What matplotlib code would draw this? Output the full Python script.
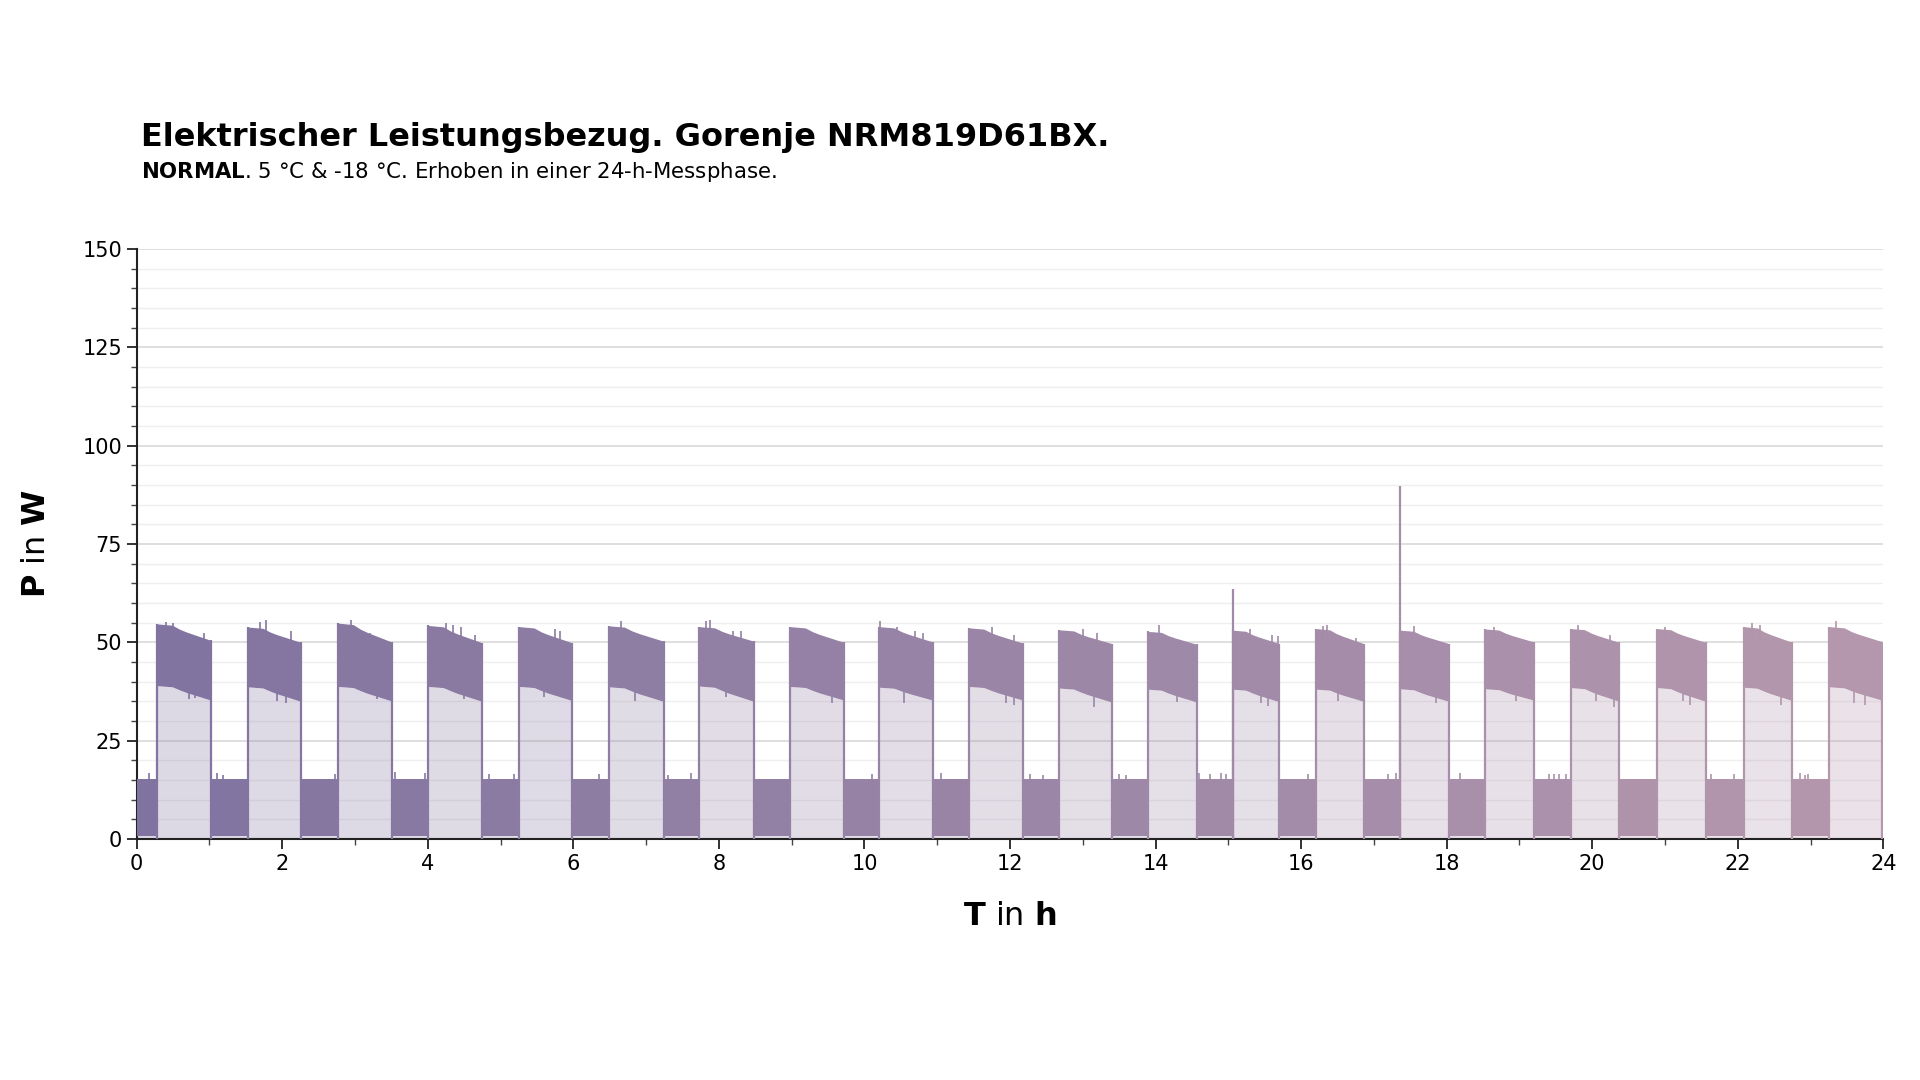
from __future__ import annotations

import matplotlib

matplotlib.use("Agg")
import matplotlib.pyplot as plt
import numpy as np
from matplotlib.colors import to_rgb
from matplotlib.ticker import MultipleLocator

# compressor cycles (hours)
ON_START = [0.283, 1.529, 2.770, 4.006, 5.256, 6.492, 7.73, 8.98, 10.20, 11.43,
            12.67, 13.89, 15.06, 16.21, 17.36, 18.53, 19.71, 20.89, 22.08, 23.26]
ON_END = [1.021, 2.257, 3.503, 4.748, 5.984, 7.24, 8.48, 9.72, 10.94, 12.18,
          13.40, 14.57, 15.70, 16.86, 18.03, 19.20, 20.37, 21.56, 22.75, 23.98]

# envelope of the fast oscillation while the compressor runs (W)
UPPER_START = [54.7, 53.9, 54.9, 54.3, 54.0, 54.2, 54.0, 54.0, 54.0, 53.7,
               53.2, 52.8, 53.1, 53.5, 53.1, 53.4, 53.5, 53.5, 54.0, 54.0]
UPPER_END = [50.5, 50.0, 50.1, 49.9, 49.9, 50.3, 50.3, 50.0, 50.1, 49.8,
             49.7, 49.5, 49.7, 49.7, 49.7, 50.1, 50.0, 50.0, 50.0, 50.2]
LOWER_START = [39.0, 38.7, 38.8, 38.8, 38.8, 38.7, 38.9, 38.8, 38.6, 38.8,
               38.4, 38.1, 38.1, 38.1, 38.2, 38.2, 38.5, 38.5, 38.6, 38.7]
LOWER_END = [35.3, 35.0, 35.1, 35.0, 35.2, 35.0, 35.0, 35.3, 35.3, 35.3,
             34.8, 34.8, 34.9, 35.0, 35.0, 35.3, 35.0, 35.0, 35.2, 35.3]

# envelope shape inside one run (fraction of run time / fraction of drop)
KNOT_FRAC = [0.0, 0.28, 0.42, 0.55, 1.0]
UPPER_DROP = [0.0, 0.08, 0.33, 0.5, 1.0]
LOWER_DROP = [0.0, 0.08, 0.30, 0.48, 1.0]

# standby band between runs (W)
OFF_UPPER = 15.2
OFF_LOWER = 0.7

# spikes
SPIKE_T = [15.06, 17.36]
SPIKE_W = [63.5, 89.7]
UPPER_TICK_T = [0.40, 0.50, 0.93, 1.70, 1.78, 2.12, 2.95, 3.20, 4.25, 4.35, 4.45,
                4.65, 5.75, 5.82, 6.65, 7.82, 7.88, 8.20, 8.30, 10.22, 10.45, 10.70,
                10.80, 11.75, 12.05, 13.00, 13.20, 14.05, 15.30, 15.60, 15.68, 16.30,
                16.36, 16.75, 17.55, 18.65, 19.80, 20.25, 21.00, 22.20, 22.30, 23.35]
UPPER_TICK_W = [55.3, 55.0, 52.5, 55.2, 55.8, 52.8, 55.8, 52.5, 55.0, 54.5, 54.0,
                52.0, 53.5, 53.0, 55.5, 55.5, 55.8, 53.0, 53.0, 55.5, 54.0, 53.0,
                52.5, 54.0, 52.0, 53.5, 52.3, 54.3, 53.5, 51.8, 51.5, 54.2,
                54.3, 51.0, 54.2, 53.8, 54.5, 52.0, 54.0, 55.0, 54.5, 55.5]
LOWER_DIP_T = [0.72, 0.80, 1.93, 2.05, 3.30, 4.50, 5.60, 6.85, 8.10, 9.55, 10.55,
               11.95, 12.05, 13.15, 14.30, 15.45, 15.55, 16.50, 17.85, 18.95, 20.05,
               20.30, 21.25, 21.35, 22.60, 23.60, 23.75]
LOWER_DIP_W = [35.5, 35.8, 35.0, 34.5, 35.5, 35.5, 36.0, 35.0, 36.0, 34.5, 34.5,
               34.5, 34.0, 33.5, 34.8, 34.5, 33.8, 35.0, 34.5, 35.0, 35.0,
               33.5, 35.0, 34.0, 34.0, 34.5, 34.0]
OFF_TICK_T = [0.17, 1.10, 1.18, 2.73, 3.55, 3.96, 4.84, 5.19, 6.35, 7.30, 7.62,
              10.10, 11.05, 12.27, 12.45, 13.50, 13.60, 14.60, 14.75, 14.90, 14.97,
              16.10, 17.20, 17.30, 18.19, 19.40, 19.48, 19.54, 19.64, 21.63, 21.95,
              22.85, 22.92, 22.97]
OFF_TICK_W = [16.8, 16.7, 16.3, 16.5, 17.0, 16.8, 16.5, 16.5, 16.5, 16.3, 16.8,
              16.5, 16.8, 16.5, 16.3, 16.5, 16.3, 16.8, 16.5, 16.8, 16.5,
              16.5, 16.5, 16.8, 16.8, 16.6, 16.6, 16.6, 16.6, 16.5, 16.6,
              16.8, 16.3, 16.6]

X_MAX = 24
Y_MAX = 150

COLOR_START = "#8073a0"
COLOR_END = "#b598ad"
LIGHT_ALPHA = 0.27


def configure_style() -> None:
    plt.rcParams["font.family"] = ["DejaVu Sans"]
    plt.rcParams["mathtext.fontset"] = "dejavusans"
    plt.rcParams["figure.facecolor"] = "white"
    plt.rcParams["axes.facecolor"] = "white"


def color_at(t: float) -> tuple[float, float, float]:
    f = min(max(t / X_MAX, 0.0), 1.0)
    c0 = np.array(to_rgb(COLOR_START))
    c1 = np.array(to_rgb(COLOR_END))
    return tuple((1 - f) * c0 + f * c1)


def draw_off(ax, t0: float, t1: float) -> None:
    col = color_at(0.5 * (t0 + t1))
    ax.fill_between([t0, t1], 0, OFF_LOWER, color=col, alpha=LIGHT_ALPHA, lw=0, zorder=2)
    ax.fill_between([t0, t1], OFF_LOWER, OFF_UPPER, color=col, lw=0, zorder=3)


def draw_on(ax, i: int) -> None:
    t0, t1 = ON_START[i], ON_END[i]
    col = color_at(0.5 * (t0 + t1))
    t = t0 + np.array(KNOT_FRAC) * (t1 - t0)
    upper = UPPER_START[i] - np.array(UPPER_DROP) * (UPPER_START[i] - UPPER_END[i])
    lower = LOWER_START[i] - np.array(LOWER_DROP) * (LOWER_START[i] - LOWER_END[i])
    ax.fill_between(t, 0, lower, color=col, alpha=LIGHT_ALPHA, lw=0, zorder=2)
    ax.fill_between(t, lower, upper, color=col, lw=0, zorder=3)
    ax.vlines([t0, t1], 0, [upper[0], upper[-1]], color=col, lw=1.6, zorder=3)


def draw_power(ax) -> None:
    draw_off(ax, 0, ON_START[0])
    for i in range(len(ON_START)):
        draw_on(ax, i)
        t_next = ON_START[i + 1] if i + 1 < len(ON_START) else X_MAX
        draw_off(ax, ON_END[i], t_next)

    for t, w in zip(UPPER_TICK_T, UPPER_TICK_W):
        ax.vlines(t, w - 4, w, color=color_at(t), lw=1.2, zorder=3)
    for t, w in zip(LOWER_DIP_T, LOWER_DIP_W):
        ax.vlines(t, w, w + 4, color=color_at(t), lw=1.2, zorder=3)
    for t, w in zip(OFF_TICK_T, OFF_TICK_W):
        ax.vlines(t, w - 3, w, color=color_at(t), lw=1.2, zorder=3)
    for t, w in zip(SPIKE_T, SPIKE_W):
        ax.vlines(t, 0, w, color=color_at(t), lw=1.6, zorder=3)


def finish_axes(ax) -> None:
    ax.set_xlim(0, X_MAX)
    ax.set_ylim(0, Y_MAX)
    ax.xaxis.set_major_locator(MultipleLocator(2))
    ax.xaxis.set_minor_locator(MultipleLocator(1))
    ax.yaxis.set_major_locator(MultipleLocator(25))
    ax.yaxis.set_minor_locator(MultipleLocator(5))
    ax.grid(True, axis="y", which="major", color="#dcdcdc", lw=1.3, zorder=0)
    ax.grid(True, axis="y", which="minor", color="#efefef", lw=1.0, zorder=0)
    ax.set_axisbelow(True)
    for side in ("top", "right"):
        ax.spines[side].set_visible(False)
    for side in ("left", "bottom"):
        ax.spines[side].set_linewidth(1.5)
        ax.spines[side].set_color("#222222")
    ax.tick_params(which="major", length=7, width=1.3, labelsize=15, colors="#222222")
    ax.tick_params(which="minor", length=4, width=1.0, colors="#444444")
    ax.tick_params(axis="x", labelcolor="black")
    ax.tick_params(axis="y", labelcolor="black")


def main() -> None:
    configure_style()
    fig = plt.figure(figsize=(19.2, 10.8), dpi=100)
    ax = fig.add_axes([0.0712, 0.2231, 0.9097, 0.5463])
    draw_power(ax)
    finish_axes(ax)

    fig.text(0.0735, 0.873, "Elektrischer Leistungsbezug. Gorenje NRM819D61BX.",
             fontsize=23, fontweight="bold", va="center", ha="left")
    fig.text(0.0735, 0.841, r"$\bf{NORMAL}$. 5 °C & -18 °C. Erhoben in einer 24-h-Messphase.",
             fontsize=15.3, va="center", ha="left")
    fig.text(0.019, 0.497, r"$\bf{P}$ in $\bf{W}$", fontsize=23, rotation=90,
             va="center", ha="center")
    fig.text(0.526, 0.151, r"$\bf{T}$ in $\bf{h}$", fontsize=23,
             va="center", ha="center")

    fig.savefig("out.png", dpi=100)
    plt.close(fig)


if __name__ == "__main__":
    main()
